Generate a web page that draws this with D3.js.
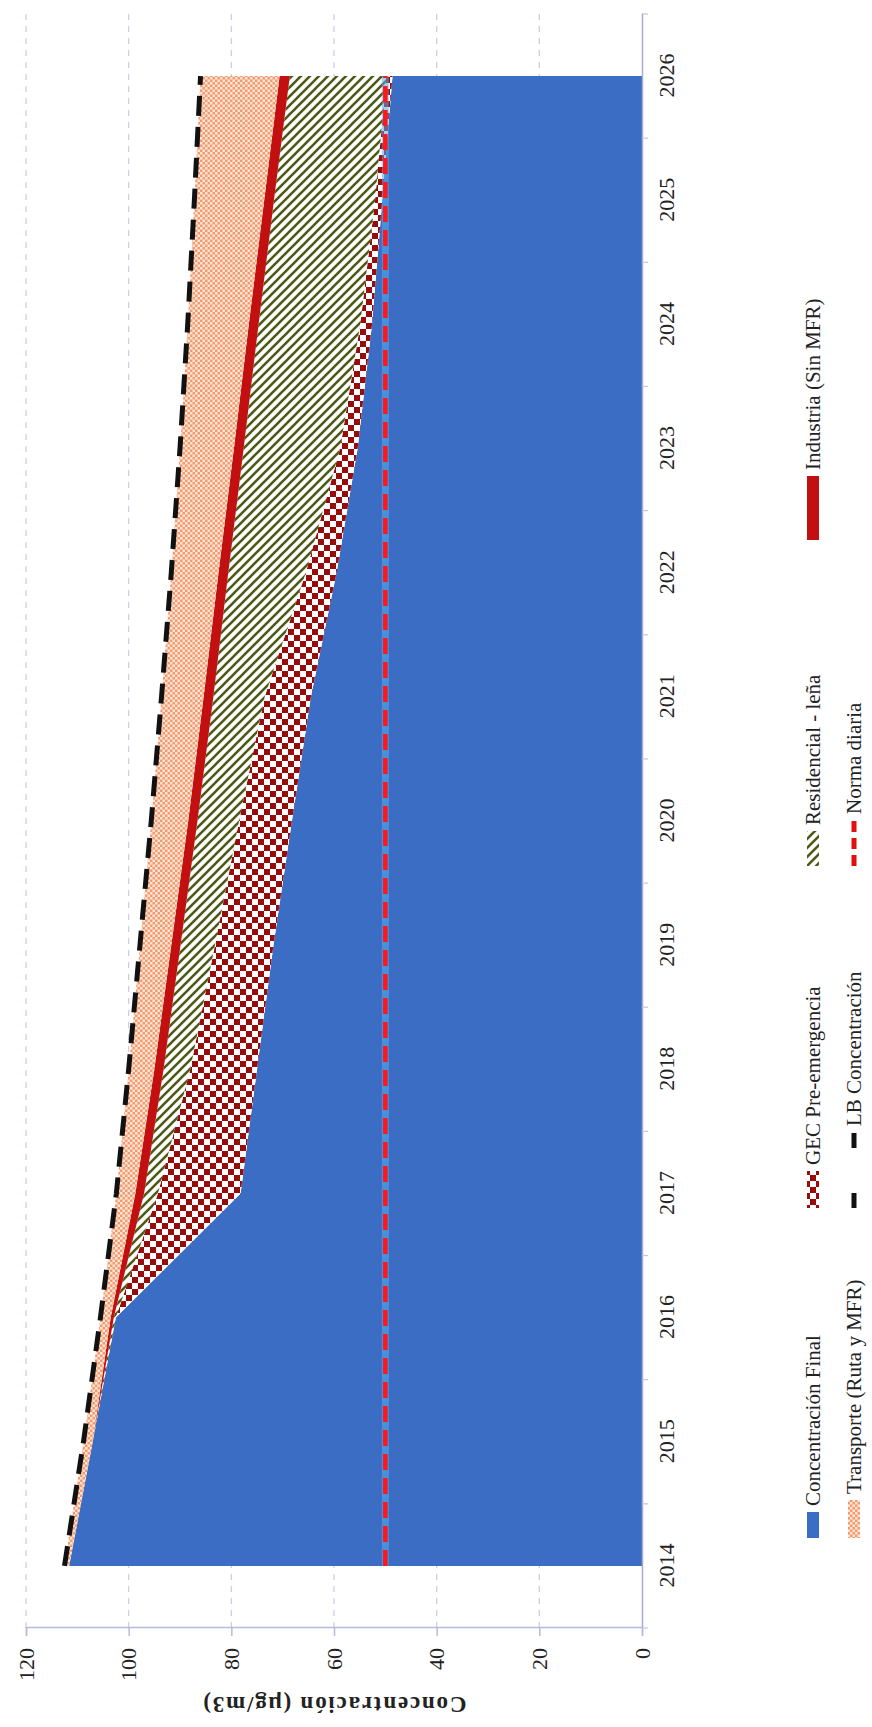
<!DOCTYPE html>
<html><head><meta charset="utf-8">
<script src="https://cdn.jsdelivr.net/npm/d3@7"></script>
<style>body{margin:0;background:#fff} svg{display:block}</style>
</head><body>
<svg id="c" width="872" height="1727"></svg>
<script>
// ---- data ----
const years = [2014,2015,2016,2017,2018,2019,2020,2021,2022,2023,2024,2025,2026];
const concentracionFinal = [111.6,107.0,102.5,78.2,75.0,71.8,68.2,64.5,59.5,55.4,52.6,50.6,48.6];
const gecPreemergencia   = [0,0,0,16.1,13.0,11.4,10.3,9.0,6.0,3.4,2.3,1.4,1.2];
const residencialLena    = [0,0,0.4,2.7,5.2,6.7,8.1,10.0,15.1,18.8,19.8,19.7,18.8];
const industriaSinMFR    = [0,0,0.6,1.7,1.8,1.8,1.8,1.9,1.9,1.9,1.9,1.9,2.0];
const transporteRutaMFR  = [0.9,1.8,2.0,3.7,5.0,6.1,7.2,8.2,9.2,10.5,11.9,13.6,15.4];
const lbConcentracion    = [112.5,108.8,105.5,102.4,100.0,97.8,95.6,93.6,91.7,90.0,88.5,87.2,86.0];
const normaDiaria        = [50,50,50,50,50,50,50,50,50,50,50,50,50];
const valueTicks = [0,20,40,60,80,100,120];
const seriesKeys = ["final","gec","res","ind","trans"];
const seriesLabels = {
  final:"Concentración Final", gec:"GEC Pre-emergencia", res:"Residencial - leña",
  ind:"Industria (Sin MFR)", trans:"Transporte (Ruta y MFR)", lb:"LB Concentración", norma:"Norma diaria"
};
const axisTitle = "Concentración (µg/m3)";

const table = years.map((yr,i)=>({
  year:yr, final:concentracionFinal[i], gec:gecPreemergencia[i], res:residencialLena[i],
  ind:industriaSinMFR[i], trans:transporteRutaMFR[i], lb:lbConcentracion[i], norma:normaDiaria[i]
}));

// ---- drawing (chart laid out landscape, then rotated -90deg) ----
const FONT = "'Liberation Serif','Times New Roman',serif";
const svg = d3.select("#c");
svg.append("rect").attr("width",872).attr("height",1727).attr("fill","#fff");
const defs = svg.append("defs");

const pG = defs.append("pattern").attr("id","pGec").attr("patternUnits","userSpaceOnUse").attr("width",12).attr("height",12);
pG.append("rect").attr("width",12).attr("height",12).attr("fill","#fff");
pG.append("rect").attr("width",6).attr("height",6).attr("fill","#970b0b");
pG.append("rect").attr("x",6).attr("y",6).attr("width",6).attr("height",6).attr("fill","#970b0b");

const pR = defs.append("pattern").attr("id","pRes").attr("patternUnits","userSpaceOnUse").attr("width",9).attr("height",9);
pR.append("rect").attr("width",9).attr("height",9).attr("fill","#fff");
pR.append("path").attr("d","M-1,-1L10,10M-3,6L3,12M6,-3L12,3").attr("stroke","#4d5a16").attr("stroke-width",2.6);

const pT = defs.append("pattern").attr("id","pTr").attr("patternUnits","userSpaceOnUse").attr("width",5).attr("height",5);
pT.append("rect").attr("width",5).attr("height",5).attr("fill","#fde6d6");
pT.append("rect").attr("width",2.5).attr("height",2.5).attr("fill","#f39a70");
pT.append("rect").attr("x",2.5).attr("y",2.5).attr("width",2.5).attr("height",2.5).attr("fill","#f39a70");

const fills = {final:"#3b6dc4", gec:"url(#pGec)", res:"url(#pRes)", ind:"#c20f0f", trans:"url(#pTr)"};

const g = svg.append("g").attr("transform","translate(0,1727) rotate(-90)");

const x = d3.scalePoint().domain(years).range([99,1713]).padding(0.5);
const y = d3.scaleLinear().domain([0,120]).range([642,26]);
const [x0,x1] = x.range();

// gridlines
g.append("g").selectAll("line").data(valueTicks.filter(v=>v>0)).join("line")
  .attr("x1",x0).attr("x2",x1).attr("y1",d=>y(d)).attr("y2",d=>y(d))
  .attr("stroke","#c9c9e6").attr("stroke-width",1.2).attr("stroke-dasharray","6,6");

// stacked areas
const stacked = d3.stack().keys(seriesKeys)(table);
const area = d3.area().x(d=>x(d.data.year)).y0(d=>y(d[0])).y1(d=>y(d[1]));
g.append("g").selectAll("path").data(stacked).join("path")
  .attr("d",area).attr("fill",d=>fills[d.key]);

// norma diaria
const lineOf = key => d3.line().x(d=>x(d.year)).y(d=>y(d[key]));
g.append("path").datum(table).attr("d",lineOf("norma")).attr("fill","none")
  .attr("stroke","#5aaaf0").attr("stroke-width",7).attr("stroke-opacity",0.55);
g.append("path").datum(table).attr("d",lineOf("norma")).attr("fill","none")
  .attr("stroke","#ff1616").attr("stroke-width",4.5).attr("stroke-dasharray","16,8");
// LB
g.append("path").datum(table).attr("d",lineOf("lb")).attr("fill","none")
  .attr("stroke","#111").attr("stroke-width",5).attr("stroke-dasharray","20,11");

// value axis
const ya = g.append("g").attr("transform",`translate(${x0},0)`)
  .call(d3.axisLeft(y).tickValues(valueTicks).tickSize(8).tickPadding(12));
ya.select(".domain").attr("stroke","#b9b9dc").attr("stroke-width",1.5);
ya.selectAll(".tick line").attr("stroke","#b9b9dc").attr("stroke-width",1.5);
ya.selectAll("text").attr("font-family",FONT).attr("font-size",22).attr("fill","#222");

// year axis
const xa = g.append("g").attr("transform",`translate(0,${y(0)})`)
  .call(d3.axisBottom(x).tickSize(0).tickPadding(0));
xa.select(".domain").attr("stroke","#a9a9d6").attr("stroke-width",1.5);
xa.selectAll("text").attr("y",24).attr("dy","0.35em").attr("font-family",FONT).attr("font-size",22).attr("fill","#222");
const step = x.step();
g.append("g").selectAll("line").data(years.concat([null])).join("line")
  .attr("x1",(d,i)=>x(years[0])-step/2+i*step).attr("x2",(d,i)=>x(years[0])-step/2+i*step)
  .attr("y1",y(0)).attr("y2",y(0)+6).attr("stroke","#c4c4e2").attr("stroke-width",1.2);

// axis title
g.append("text").attr("transform",`translate(22,${(y(0)+y(120))/2}) rotate(-90)`)
  .attr("text-anchor","middle").attr("dy","0.35em")
  .attr("font-family",FONT).attr("font-size",23).attr("font-weight","bold").attr("letter-spacing",1.8).attr("fill","#222")
  .text(axisTitle);

// legend
const legendCols = [189,519,861,1187], legendRows = [813,854];
const legendItems = [
  {k:"final",col:0,row:0,type:"rect",len:26},
  {k:"gec",col:1,row:0,type:"rect",len:37},
  {k:"res",col:2,row:0,type:"rect",len:35},
  {k:"ind",col:3,row:0,type:"rect",len:64},
  {k:"trans",col:0,row:1,type:"rect",len:38},
  {k:"lb",col:1,row:1,type:"line",len:76,color:"#111",dash:"15,45"},
  {k:"norma",col:2,row:1,type:"line",len:46,color:"#e01010",dash:"11,6"}
];
const lg = g.append("g");
legendItems.forEach(it=>{
  const lx = legendCols[it.col], ly = legendRows[it.row];
  if(it.type==="rect"){
    lg.append("rect").attr("x",lx).attr("y",ly-6).attr("width",it.len).attr("height",12).attr("fill",fills[it.k]);
  } else {
    lg.append("line").attr("x1",lx).attr("x2",lx+it.len).attr("y1",ly).attr("y2",ly)
      .attr("stroke",it.color).attr("stroke-width",5).attr("stroke-dasharray",it.dash);
  }
  lg.append("text").attr("x",lx+it.len+6).attr("y",ly).attr("dy","0.35em")
    .attr("font-family",FONT).attr("font-size",21).attr("fill","#222").text(seriesLabels[it.k]);
});
</script>
</body></html>
